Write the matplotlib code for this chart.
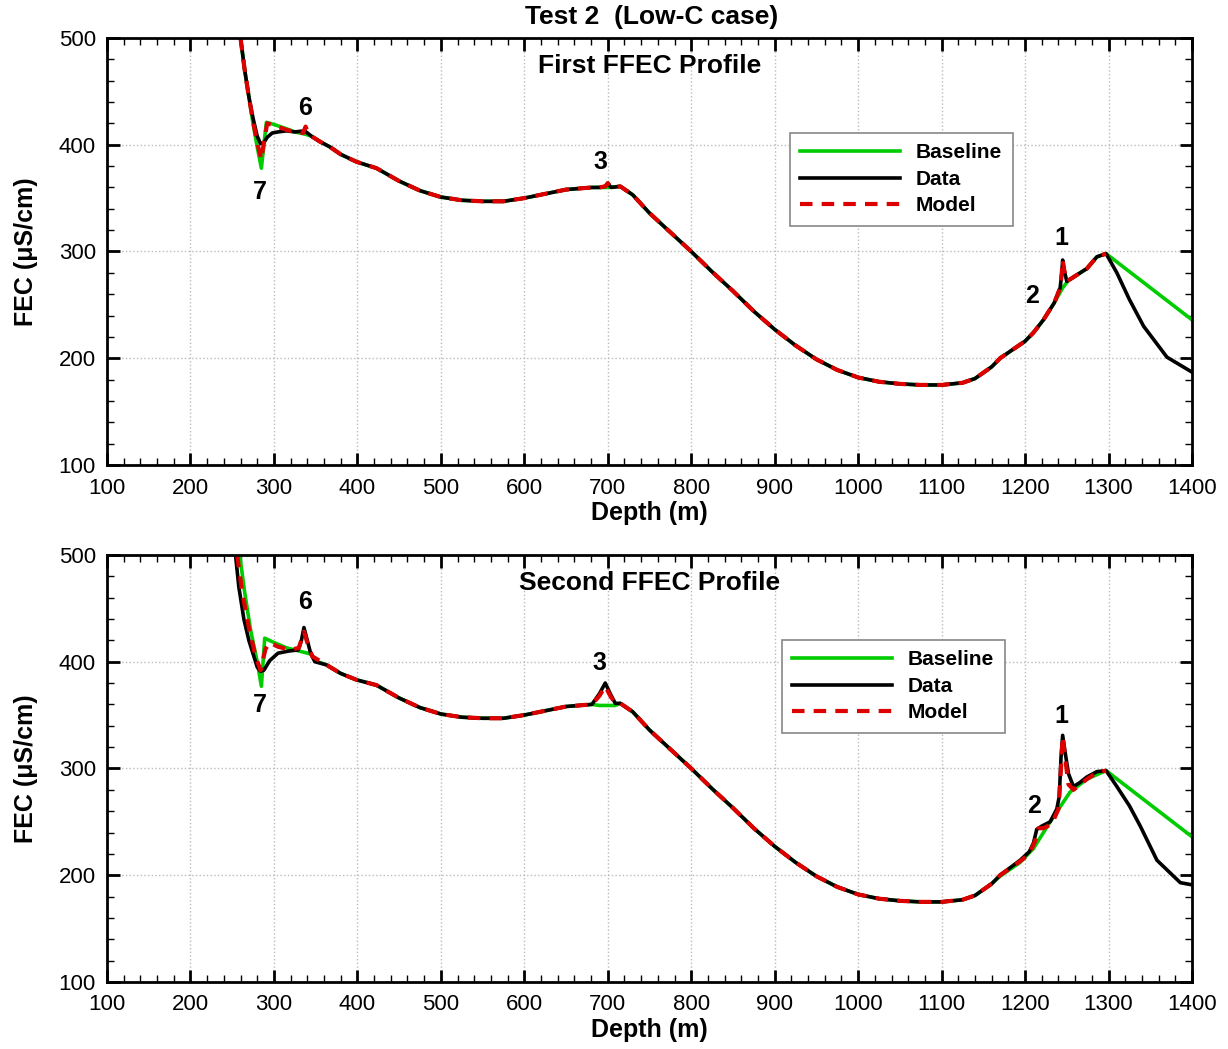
import matplotlib
matplotlib.use('Agg')
import matplotlib.pyplot as plt
from matplotlib.ticker import MultipleLocator

plt.rcParams['font.family'] = ['Liberation Sans', 'DejaVu Sans']

# shared trend of the borehole profile between the inflow zones
mid1_d = [423, 450, 475, 500, 525, 550, 575, 600, 625, 650, 681]
mid1_f = [378, 366, 357, 351, 348, 347, 347, 350, 354, 358, 360]
mid2_d = [715, 730, 750, 775, 800, 825, 850, 875, 900, 925, 950, 975,
          1000, 1025, 1050, 1075, 1100, 1125, 1140, 1160]
mid2_f = [361, 353, 336, 318, 300, 281, 263, 244, 227, 212, 199, 189,
          182, 178, 176, 175, 175, 177, 181, 192]

# ---- first profile ----
p1_data_head_d = [260, 265, 270, 275, 280, 284, 288, 292, 298, 305, 315, 325, 337, 345, 355, 367, 380, 399]
p1_data_head_f = [500, 470, 445, 425, 408, 401, 402, 407, 411, 412, 413, 412, 413, 408, 403, 398, 391, 384]
p1_base_head_d = [260, 265, 270, 275, 280, 285, 288, 291, 300, 315, 325, 337, 345, 355, 367, 380, 399]
p1_base_head_f = [500, 470, 445, 420, 398, 378, 400, 421, 419, 415, 412, 410, 408, 403, 398, 391, 384]
p1_model_head_d = [260, 265, 270, 275, 280, 285, 288, 292, 300, 315, 325, 335, 338, 341, 345, 355, 367, 380, 399]
p1_model_head_f = [500, 470, 445, 422, 402, 386, 402, 420, 418, 414, 412, 411, 417, 411, 408, 403, 398, 391, 384]

p1_data_hump_d = [690, 697, 700, 704]
p1_data_hump_f = [360, 361, 364, 360]
p1_base_hump_d = [690, 700]
p1_base_hump_f = [360, 360]
p1_model_hump_d = [690, 697, 700, 704]
p1_model_hump_f = [360, 361, 364, 360]

p1_data_tail_d = [1170, 1185, 1200, 1210, 1222, 1235, 1242, 1244, 1245, 1247, 1250, 1262, 1274, 1286,
                  1297, 1310, 1325, 1342, 1370, 1400]
p1_data_tail_f = [200, 208, 216, 224, 236, 252, 266, 280, 292, 282, 272, 278, 284, 295,
                  298, 280, 255, 230, 201, 187]
p1_base_tail_d = [1170, 1185, 1200, 1210, 1222, 1235, 1245, 1252, 1274, 1286, 1297, 1400]
p1_base_tail_f = [200, 208, 216, 224, 236, 252, 266, 273, 284, 295, 298, 236]
p1_model_tail_d = [1170, 1185, 1200, 1210, 1222, 1235, 1242, 1244, 1245, 1247, 1250, 1262, 1274, 1286, 1297]
p1_model_tail_f = [200, 208, 216, 224, 236, 252, 266, 280, 292, 282, 272, 278, 284, 295, 298]

# ---- second profile ----
p2_data_head_d = [254, 258, 264, 270, 276, 280, 284, 288, 295, 305, 318, 329, 333, 336, 340, 344, 349, 363, 380, 399]
p2_data_head_f = [500, 470, 440, 420, 405, 395, 391, 392, 401, 408, 410, 411, 420, 432, 420, 408, 400, 397, 389, 383]
p2_base_head_d = [259, 265, 272, 280, 285, 289, 300, 315, 330, 345, 349, 363, 380, 399]
p2_base_head_f = [500, 465, 430, 400, 377, 422, 418, 413, 410, 407, 401, 397, 389, 383]
p2_model_head_d = [256, 262, 270, 278, 284, 290, 295, 305, 320, 330, 336, 340, 346, 363, 380, 399]
p2_model_head_f = [500, 465, 432, 405, 392, 412, 418, 414, 411, 413, 428, 418, 405, 397, 389, 383]

p2_data_hump_d = [690, 697, 703, 709]
p2_data_hump_f = [370, 380, 370, 361]
p2_base_hump_d = [690, 709]
p2_base_hump_f = [359, 359]
p2_model_hump_d = [690, 697, 703, 709]
p2_model_hump_f = [368, 377, 368, 361]

p2_data_tail_d = [1170, 1194, 1205, 1210, 1214, 1220, 1230, 1238, 1241, 1243, 1245, 1248, 1252, 1258,
                  1266, 1274, 1286, 1297, 1310, 1325, 1338, 1358, 1386, 1400]
p2_data_tail_f = [200, 214, 222, 230, 243, 246, 250, 262, 274, 310, 331, 315, 295, 283,
                  287, 292, 297, 298, 283, 265, 246, 214, 193, 191]
p2_base_tail_d = [1170, 1194, 1210, 1230, 1254, 1274, 1297, 1400]
p2_base_tail_f = [199, 212, 225, 250, 278, 290, 298, 236]
p2_model_tail_d = [1170, 1194, 1205, 1212, 1216, 1222, 1232, 1240, 1243, 1245, 1248, 1252, 1258,
                   1274, 1286, 1297]
p2_model_tail_f = [200, 213, 220, 232, 244, 244, 248, 262, 300, 330, 310, 285, 280,
                   290, 296, 298]


def profile(head_d, head_f, hump_d, hump_f, tail_d, tail_f):
    d = head_d + mid1_d + hump_d + mid2_d + tail_d
    f = head_f + mid1_f + hump_f + mid2_f + tail_f
    return d, f


panels = [
    {
        'rect': [0.0871, 0.5567, 0.8836, 0.4071],
        'name': 'First FFEC Profile',
        'base': profile(p1_base_head_d, p1_base_head_f, p1_base_hump_d, p1_base_hump_f, p1_base_tail_d, p1_base_tail_f),
        'data': profile(p1_data_head_d, p1_data_head_f, p1_data_hump_d, p1_data_hump_f, p1_data_tail_d, p1_data_tail_f),
        'model': profile(p1_model_head_d, p1_model_head_f, p1_model_hump_d, p1_model_hump_f, p1_model_tail_d, p1_model_tail_f),
        'labels': [('6', 337, 434), ('7', 283, 356), ('3', 691, 384), ('1', 1243, 313), ('2', 1208, 258)],
        'legend_at': (0.6295, 0.7775),
    },
    {
        'rect': [0.0871, 0.0639, 0.8836, 0.4071],
        'name': 'Second FFEC Profile',
        'base': profile(p2_base_head_d, p2_base_head_f, p2_base_hump_d, p2_base_hump_f, p2_base_tail_d, p2_base_tail_f),
        'data': profile(p2_data_head_d, p2_data_head_f, p2_data_hump_d, p2_data_hump_f, p2_data_tail_d, p2_data_tail_f),
        'model': profile(p2_model_head_d, p2_model_head_f, p2_model_hump_d, p2_model_hump_f, p2_model_tail_d, p2_model_tail_f),
        'labels': [('6', 337, 456), ('7', 283, 359), ('3', 690, 399), ('1', 1243, 349), ('2', 1211, 265)],
        'legend_at': (0.622, 0.801),
    },
]

fig = plt.figure(figsize=(12.28, 10.49), dpi=100)
fig.text(0.531, 0.984, 'Test 2  (Low-C case)', ha='center', va='center',
         fontsize=19, fontweight='bold')

for p in panels:
    ax = fig.add_axes(p['rect'])
    ax.plot(*p['base'], color='#00cc00', lw=2.6, label='Baseline')
    ax.plot(*p['data'], color='black', lw=2.6, label='Data')
    ax.plot(*p['model'], color='#dd0000', lw=3, dashes=(3, 2.2), label='Model')

    ax.set_xlim(100, 1400)
    ax.set_ylim(100, 500)
    ax.xaxis.set_major_locator(MultipleLocator(100))
    ax.xaxis.set_minor_locator(MultipleLocator(20))
    ax.yaxis.set_major_locator(MultipleLocator(100))
    ax.yaxis.set_minor_locator(MultipleLocator(20))
    ax.tick_params(which='both', direction='in', top=True, right=True, labelsize=16)
    ax.tick_params(which='major', length=9, width=2)
    ax.tick_params(which='minor', length=5, width=1)
    ax.tick_params(axis='x', which='major', pad=9)
    ax.tick_params(axis='y', which='major', pad=8)
    for s in ax.spines.values():
        s.set_linewidth(2)
    ax.grid(True, which='major', color='#bbbbbb', linestyle=':', linewidth=1)

    ax.set_xlabel('Depth (m)', fontsize=18, fontweight='bold', labelpad=2)
    ax.set_ylabel('FEC (μS/cm)', fontsize=18, fontweight='bold', labelpad=15)
    ax.text(0.5, 0.935, p['name'], transform=ax.transAxes, ha='center', va='center',
            fontsize=19, fontweight='bold')

    for txt, x, y in p['labels']:
        ax.text(x, y, txt, ha='center', va='center', fontsize=18, fontweight='bold')

    lgd = ax.legend(loc='upper left', bbox_to_anchor=p['legend_at'],
                    prop={'weight': 'bold', 'size': 15}, handlelength=4.8,
                    handletextpad=0.75, labelspacing=0.36, borderpad=0.5,
                    borderaxespad=0, fancybox=False, framealpha=1,
                    edgecolor='#888888')
    lgd.get_frame().set_linewidth(1.2)

plt.savefig('out.png', dpi=100)
